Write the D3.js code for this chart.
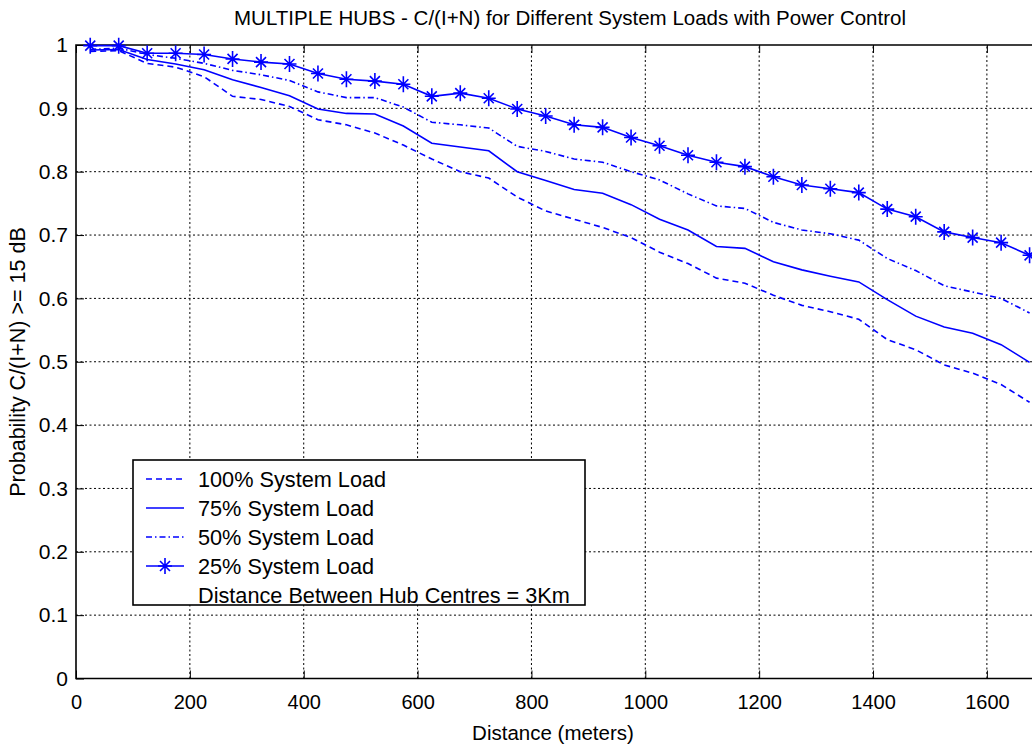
<!DOCTYPE html>
<html>
<head>
<meta charset="utf-8">
<script src="https://cdn.jsdelivr.net/npm/d3@7"></script>
<style>
  body { margin: 0; background: #fff; }
  svg { display: block; }
  text { font-family: "Liberation Sans", Arial, Helvetica, sans-serif; fill: #000; }
</style>
</head>
<body>
<svg id="chart" width="1032" height="750"></svg>
<script>
// Distance from hub centre (m)
const distances = [25, 75, 125, 175, 225, 275, 325, 375, 425, 475,
                   525, 575, 625, 675, 725, 775, 825, 875, 925, 975,
                   1025, 1075, 1125, 1175, 1225, 1275, 1325, 1375, 1425, 1475,
                   1525, 1575, 1625, 1675];

// Probability C/(I+N) >= 15 dB for each system load
const load100 = [0.990, 0.991, 0.971, 0.965, 0.950, 0.919, 0.914, 0.903, 0.882, 0.874,
                 0.861, 0.842, 0.820, 0.800, 0.790, 0.760, 0.738, 0.725, 0.712, 0.696,
                 0.673, 0.655, 0.632, 0.624, 0.605, 0.589, 0.579, 0.567, 0.535, 0.519,
                 0.495, 0.482, 0.464, 0.436];
const load75  = [0.992, 0.993, 0.977, 0.970, 0.961, 0.945, 0.933, 0.920, 0.899, 0.892,
                 0.891, 0.872, 0.845, 0.839, 0.833, 0.800, 0.786, 0.772, 0.766, 0.748,
                 0.725, 0.708, 0.682, 0.679, 0.658, 0.645, 0.635, 0.626, 0.598, 0.572,
                 0.555, 0.545, 0.527, 0.499];
const load50  = [0.993, 0.995, 0.985, 0.979, 0.971, 0.960, 0.953, 0.944, 0.926, 0.917,
                 0.917, 0.902, 0.878, 0.874, 0.869, 0.840, 0.832, 0.820, 0.815, 0.800,
                 0.787, 0.765, 0.746, 0.742, 0.720, 0.708, 0.702, 0.692, 0.663, 0.644,
                 0.620, 0.610, 0.600, 0.577];
const load25  = [0.999, 0.999, 0.987, 0.987, 0.985, 0.978, 0.973, 0.970, 0.955, 0.946,
                 0.943, 0.938, 0.919, 0.924, 0.916, 0.899, 0.888, 0.874, 0.870, 0.854,
                 0.841, 0.826, 0.815, 0.808, 0.792, 0.779, 0.773, 0.767, 0.741, 0.729,
                 0.705, 0.696, 0.688, 0.668];

const xTicks = [0, 200, 400, 600, 800, 1000, 1200, 1400, 1600];
const yTicks = [0, 0.1, 0.2, 0.3, 0.4, 0.5, 0.6, 0.7, 0.8, 0.9, 1];
const yTickLabels = ["0", "0.1", "0.2", "0.3", "0.4", "0.5", "0.6", "0.7", "0.8", "0.9", "1"];

const seriesNames = ["100% System Load", "75% System Load", "50% System Load", "25% System Load"];
const legendNote = "Distance Between Hub Centres = 3Km";
const titleText = "MULTIPLE HUBS - C/(I+N) for Different System Loads with Power Control";
const xLabel = "Distance (meters)";
const yLabel = "Probability C/(I+N) >= 15 dB";

const blue = "#0000ff";
const series = [
  { name: seriesNames[0], values: load100, dash: "6,4", marker: false },
  { name: seriesNames[1], values: load75,  dash: null,  marker: false },
  { name: seriesNames[2], values: load50,  dash: "6,3,1.5,3", marker: false },
  { name: seriesNames[3], values: load25,  dash: null,  marker: true }
];

const svg = d3.select("#chart");
const plotLeft = 76, plotTop = 45, plotBottom = 678.5;

// x axis runs past the right edge of the canvas
const x = d3.scaleLinear().domain([0, 1700]).range([plotLeft, plotLeft + 1700 * 0.5693]);
const y = d3.scaleLinear().domain([0, 1]).range([plotBottom, plotTop]);
const plotRight = x.range()[1];

// dotted grid
const grid = svg.append("g");
grid.selectAll("line.gx").data(xTicks.filter(d => d > 0)).join("line")
  .attr("x1", d => x(d)).attr("x2", d => x(d))
  .attr("y1", y(0)).attr("y2", y(1))
  .attr("stroke", "#000").attr("stroke-width", 1).attr("stroke-dasharray", "2,2.5");
grid.selectAll("line.gy").data(yTicks.filter(d => d > 0 && d < 1)).join("line")
  .attr("x1", x(0)).attr("x2", plotRight)
  .attr("y1", d => y(d)).attr("y2", d => y(d))
  .attr("stroke", "#000").attr("stroke-width", 1).attr("stroke-dasharray", "2,2.5");

// axes: inward ticks, no domain path (frame drawn separately)
const xAxis = d3.axisBottom(x).tickValues(xTicks).tickFormat(d3.format("d"))
  .tickSizeInner(-8).tickSizeOuter(0).tickPadding(16);
const gx = svg.append("g").attr("transform", `translate(0,${plotBottom})`).call(xAxis);
gx.select(".domain").remove();
gx.selectAll(".tick line").attr("stroke", "#000").attr("stroke-width", 1);
gx.selectAll(".tick text").attr("font-size", 20).attr("font-family", null);

const xAxisTop = d3.axisTop(x).tickValues(xTicks).tickSizeInner(-8).tickSizeOuter(0).tickFormat("");
const gxt = svg.append("g").attr("transform", `translate(0,${plotTop})`).call(xAxisTop);
gxt.select(".domain").remove();
gxt.selectAll(".tick line").attr("stroke", "#000");

const yAxis = d3.axisLeft(y).tickValues(yTicks).tickFormat((d, i) => yTickLabels[i])
  .tickSizeInner(-8).tickSizeOuter(0).tickPadding(8);
const gy = svg.append("g").attr("transform", `translate(${plotLeft},0)`).call(yAxis);
gy.select(".domain").remove();
gy.selectAll(".tick line").attr("stroke", "#000");
gy.selectAll(".tick text").attr("font-size", 21).attr("font-family", null);

// frame
svg.append("path")
  .attr("d", `M${plotRight},${plotTop}H${plotLeft}V${plotBottom}H${plotRight}`)
  .attr("fill", "none").attr("stroke", "#000").attr("stroke-width", 1.6);

// series lines
const line = d3.line().x((d, i) => x(distances[i])).y(d => y(d));
series.forEach(s => {
  svg.append("path")
    .datum(s.values)
    .attr("d", line)
    .attr("fill", "none")
    .attr("stroke", blue)
    .attr("stroke-width", 1.6)
    .attr("stroke-dasharray", s.dash);
});

// asterisk marker
function asterisk(g, cx, cy) {
  const p = d3.path();
  p.moveTo(cx, cy - 8); p.lineTo(cx, cy + 8);
  p.moveTo(cx - 7, cy); p.lineTo(cx + 7, cy);
  p.moveTo(cx - 5, cy - 5); p.lineTo(cx + 5, cy + 5);
  p.moveTo(cx - 5, cy + 5); p.lineTo(cx + 5, cy - 5);
  g.append("path").attr("d", p.toString()).attr("stroke", blue).attr("stroke-width", 1.6).attr("fill", "none");
}
const markers = svg.append("g");
load25.forEach((v, i) => asterisk(markers, x(distances[i]), y(v)));

// legend
const lg = svg.append("g");
lg.append("rect").attr("x", 133).attr("y", 460).attr("width", 452).attr("height", 145)
  .attr("fill", "#fff").attr("stroke", "#000").attr("stroke-width", 1.6);
series.forEach((s, i) => {
  const by = 487 + i * 29;
  const ly = by - 8;
  lg.append("line").attr("x1", 146).attr("x2", 184).attr("y1", ly).attr("y2", ly)
    .attr("stroke", blue).attr("stroke-width", 1.6).attr("stroke-dasharray", s.dash);
  if (s.marker) asterisk(lg, 165, ly);
  lg.append("text").attr("x", 198).attr("y", by).attr("font-size", 21.7).text(s.name);
});
lg.append("text").attr("x", 198).attr("y", 487 + 4 * 29).attr("font-size", 21.7).text(legendNote);

// title and axis labels
svg.append("text").attr("x", 570).attr("y", 25).attr("text-anchor", "middle")
  .attr("font-size", 20.5).text(titleText);
svg.append("text").attr("x", 553).attr("y", 740).attr("text-anchor", "middle")
  .attr("font-size", 20.5).text(xLabel);
svg.append("text").attr("transform", "translate(25,362) rotate(-90)").attr("text-anchor", "middle")
  .attr("font-size", 21.5).text(yLabel);
</script>
</body>
</html>
